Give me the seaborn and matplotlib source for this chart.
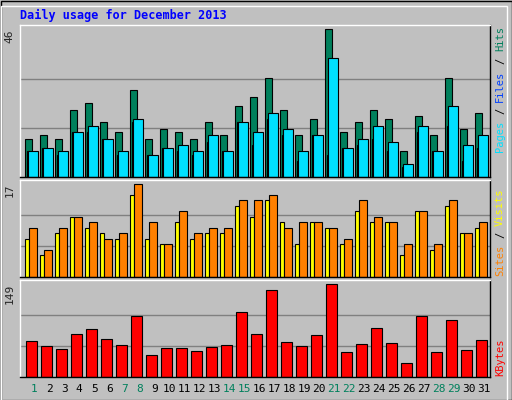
import numpy as np
import pandas as pd
import matplotlib
matplotlib.use("Agg")
import matplotlib.pyplot as plt
import seaborn as sns

days = list(range(1, 32))
weekend_days = [1, 7, 8, 14, 15, 21, 22, 28, 29]
hits = [12, 13, 12, 21, 23, 17, 14, 27, 12, 15, 14, 12, 17, 13, 22, 25, 31, 21, 13, 18, 46, 14, 17, 21, 18, 8, 19, 13, 31, 15, 20]
files = [8, 9, 8, 14, 16, 12, 8, 18, 7, 9, 10, 8, 13, 8, 17, 14, 20, 15, 8, 13, 37, 9, 12, 16, 11, 4, 16, 8, 22, 10, 13]
pages = [8, 9, 7, 14, 14, 12, 7, 17, 7, 9, 8, 7, 11, 8, 17, 10, 18, 13, 5, 13, 7, 9, 10, 12, 8, 3, 14, 8, 16, 5, 9]
sites = [7, 4, 8, 11, 9, 8, 7, 15, 7, 6, 10, 7, 8, 8, 13, 11, 14, 10, 6, 10, 9, 6, 12, 10, 10, 4, 12, 5, 13, 8, 9]
visits = [9, 5, 9, 11, 10, 7, 8, 17, 10, 6, 12, 8, 9, 9, 14, 14, 15, 9, 10, 10, 9, 7, 14, 11, 10, 6, 12, 6, 14, 8, 10]
kbytes = [58, 50, 45, 69, 77, 61, 51, 98, 36, 46, 46, 41, 48, 51, 105, 69, 139, 56, 50, 67, 149, 40, 53, 79, 54, 23, 97, 40, 92, 43, 59]

df = pd.DataFrame({"day": days, "hits": hits, "files": files, "pages": pages,
                   "sites": sites, "visits": visits, "kbytes": kbytes})

sns.set_style("white")
BG = "#C0C0C0"
W, H = 512, 400
fig = plt.figure(figsize=(W / 100, H / 100), dpi=100, facecolor=BG)
plt.rcParams["font.family"] = ["DejaVu Sans Mono", "DejaVu Sans"]

def px_axes(top, bottom, left=20, right=490):
    return fig.add_axes([left / W, 1 - bottom / H, (right - left) / W, (bottom - top) / H])

def style(ax, ymax, top_val, label_text):
    ax.set_facecolor(BG)
    ax.set_xlim(0, 31.33)
    ax.set_ylim(0, ymax)
    for f in (1 / 3, 2 / 3):
        ax.axhline(top_val * f, color="#808080", lw=1, zorder=0)
    ax.set_xticks([])
    ax.set_yticks([])
    for s in ax.spines.values():
        s.set_color("black")
        s.set_linewidth(1)
    ax.spines["top"].set_color("white")
    ax.spines["left"].set_color("white")
    ax.text(-0.012, 1 - (ymax - top_val) / ymax, label_text, transform=ax.transAxes,
            rotation=90, ha="right", va="top", fontsize=8)

pos = df["day"] - 1
edge = dict(edgecolor="black", linewidth=0.8, align="edge")

# Hits / Files / Pages
ax1 = px_axes(25, 177)
style(ax1, 47.4, 46, "46")
ax1.bar(pos + 0.33, df["hits"], width=0.5, color="#00805C", **edge)
ax1.bar(pos + 0.47, df["pages"], width=0.2, color="#0040FF", **edge)
ax1.bar(pos + 0.55, df["files"], width=0.62, color="#00E0FF", **edge)

# Sites / Visits
ax2 = px_axes(180, 277)
style(ax2, 17.7, 17, "17")
ax2.bar(pos + 0.35, df["sites"], width=0.27, color="#FFFF00", **edge)
ax2.bar(pos + 0.62, df["visits"], width=0.5, color="#FF8000", **edge)

# KBytes
ax3 = px_axes(280, 377)
style(ax3, 155.5, 149, "149")
sns.barplot(x=pos + 0.765, y=df["kbytes"], native_scale=True, width=0.69,
            color="#FF0000", saturation=1, edgecolor="black", linewidth=0.8, ax=ax3)
ax3.set_xlim(0, 31.33)
ax3.set_xlabel("")
ax3.set_ylabel("")
ax3.set_xticks([])
ax3.set_yticks([])

# day labels
for d in days:
    x = 20 + (d - 1) * 15 + 32 / 3 + 3.5
    fig.text(x / W, 1 - 389 / H, str(d), ha="center", va="center", fontsize=8,
             color="#00805C" if d in weekend_days else "black")

# right-side labels (rotated, read bottom to top)
def stacked_label(parts, x, y_bottom, step=6.3):
    y = y_bottom
    for txt, col in parts:
        n = len(txt)
        lead = n - len(txt.lstrip())
        fig.text(x / W, 1 - (y - lead * step) / H, txt.strip(), rotation=90,
                 ha="center", va="bottom", fontsize=7.5, color=col)
        y -= n * step

stacked_label([("Pages", "#00E0FF"), (" / ", "black"), ("Files", "#0040FF"),
               (" / ", "black"), ("Hits", "#00805C")], 500, 152)
stacked_label([("Sites", "#FF8000"), (" / ", "black"), ("Visits", "#FFFF00")], 500, 276)
stacked_label([("KBytes", "#FF0000")], 500, 376)

fig.text(20 / W, 1 - 15 / H, "Daily usage for December 2013", ha="left", va="center",
         fontsize=8.5, fontweight="bold", color="#0000FF")

# outer bevel border
fig.patches.append(plt.Rectangle((0.5 / W, 0.5 / H), 1 - 1 / W, 1 - 1 / H, transform=fig.transFigure,
                                 fill=False, edgecolor="black", lw=1))
fig.patches.append(plt.Rectangle((0.5 / W, 0.5 / H), 1 - 6 / W, 1 - 6 / H, transform=fig.transFigure,
                                 fill=False, edgecolor="white", lw=1))

fig.savefig("out.png", dpi=100, facecolor=BG)
